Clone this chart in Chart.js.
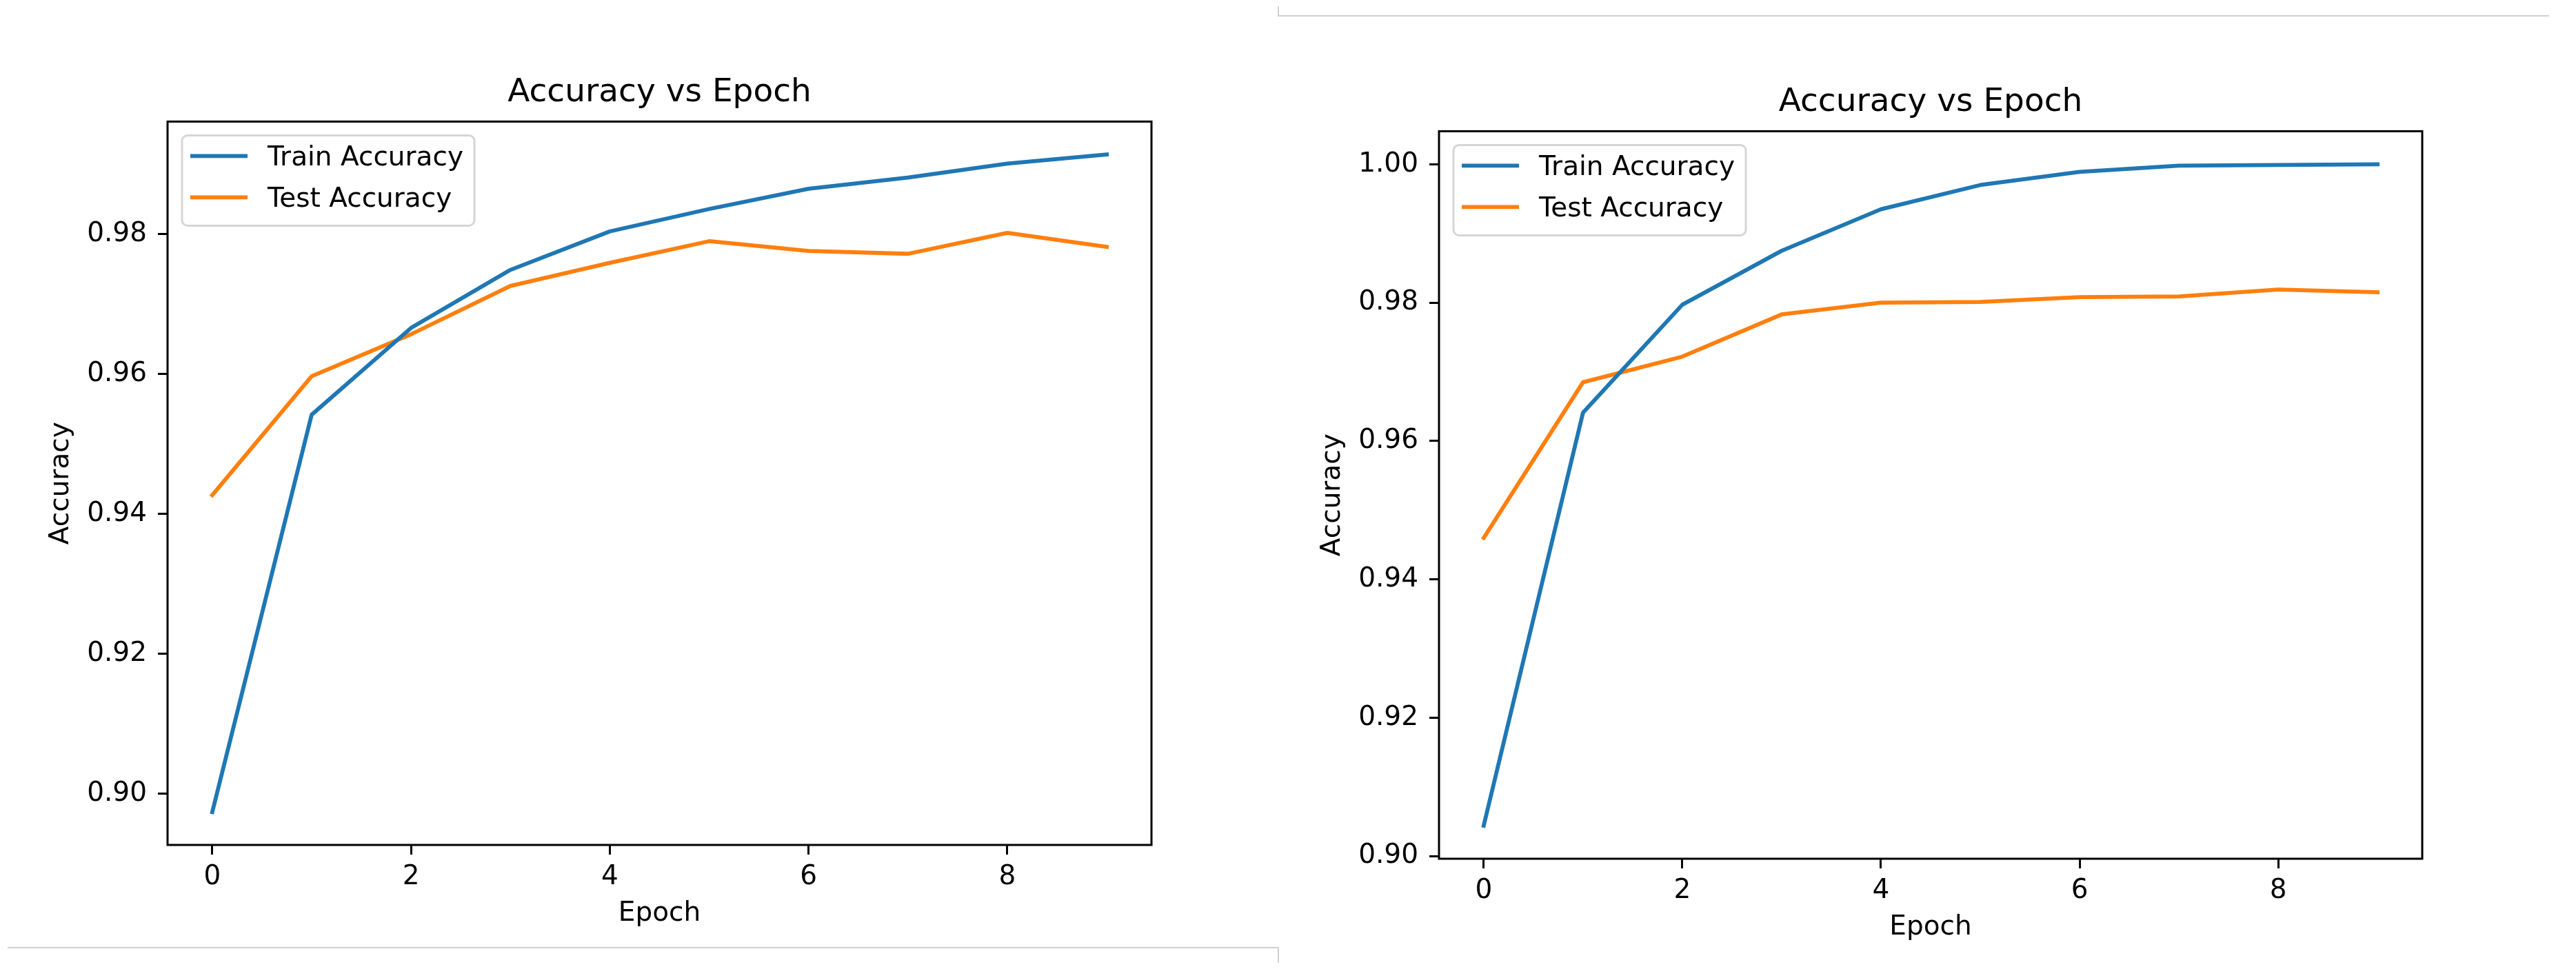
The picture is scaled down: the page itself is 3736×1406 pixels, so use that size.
<!DOCTYPE html>
<html>
<head>
<meta charset="utf-8">
<title>Accuracy vs Epoch</title>
<script src="https://cdn.jsdelivr.net/npm/chart.js@4.4.1/dist/chart.umd.min.js"></script>
<style>
  html, body { margin: 0; padding: 0; background: #fff; }
  body { width: 3736px; height: 1406px; position: relative; overflow: hidden; }
  .plot { position: absolute; }
  .rule { position: absolute; background: #d0d0d0; }
</style>
</head>
<body>
<!-- notebook cell borders -->
<div class="rule" style="left:11px;top:1374px;width:1844px;height:2px"></div>
<div class="rule" style="left:1853px;top:1374px;width:2px;height:23px"></div>
<div class="rule" style="left:1853px;top:9px;width:2px;height:15px"></div>
<div class="rule" style="left:1853px;top:22px;width:1844px;height:2px"></div>

<div class="plot" style="left:0px;top:0px;width:1868px;height:1366px"><canvas id="chartA"></canvas></div>
<div class="plot" style="left:1844px;top:14px;width:1867px;height:1372px"><canvas id="chartB"></canvas></div>

<script>
// values
const epochs = [0, 1, 2, 3, 4, 5, 6, 7, 8, 9];
const xTickValues = [0, 2, 4, 6, 8];

const trainAccA = [0.8974, 0.9542, 0.9666, 0.9749, 0.9804, 0.9836, 0.9865, 0.9881, 0.9901, 0.9914];
const testAccA  = [0.9427, 0.9597, 0.9657, 0.9726, 0.9759, 0.9790, 0.9776, 0.9772, 0.9802, 0.9782];
const yTicksA   = [0.90, 0.92, 0.94, 0.96, 0.98];

const trainAccB = [0.9044, 0.9641, 0.9797, 0.9875, 0.9935, 0.9970, 0.9989, 0.9998, 0.9999, 1.0000];
const testAccB  = [0.9460, 0.9685, 0.9722, 0.9783, 0.9800, 0.9801, 0.9808, 0.9809, 0.9819, 0.9815];
const yTicksB   = [0.90, 0.92, 0.94, 0.96, 0.98, 1.00];

Chart.defaults.font.family = "'DejaVu Sans'";
Chart.defaults.color = '#000';

// axes frame + legend drawn inside the plot area, matplotlib style
const boxLegend = {
    id: 'boxLegend',
    afterDatasetsDraw(chart) {
        const ctx = chart.ctx;
        const a = chart.chartArea;
        ctx.save();
        ctx.strokeStyle = '#000';
        ctx.lineWidth = 3;
        ctx.strokeRect(a.left, a.top, a.right - a.left, a.bottom - a.top);

        ctx.font = "39px 'DejaVu Sans'";
        const sets = chart.data.datasets;
        const textW = Math.max(...sets.map(d => ctx.measureText(d.label).width));
        const x = a.left + 21, y = a.top + 20;
        const w = 124 + textW + 16, h = 131;
        ctx.beginPath();
        ctx.roundRect(x, y, w, h, 8);
        ctx.fillStyle = 'rgba(255,255,255,0.8)';
        ctx.fill();
        ctx.strokeStyle = '#d6d6d6';
        ctx.lineWidth = 3;
        ctx.stroke();

        sets.forEach((d, i) => {
            const ly = y + 30 + i * 60;
            ctx.beginPath();
            ctx.moveTo(x + 12, ly);
            ctx.lineTo(x + 95, ly);
            ctx.strokeStyle = d.borderColor;
            ctx.lineWidth = d.borderWidth;
            ctx.lineCap = 'butt';
            ctx.stroke();
            ctx.fillStyle = '#000';
            ctx.textBaseline = 'alphabetic';
            ctx.textAlign = 'left';
            ctx.fillText(d.label, x + 124, ly + 14);
        });
        ctx.restore();
    }
};

function buildChart(id, train, test, yTicks) {
    const all = train.concat(test);
    const lo = Math.min(...all), hi = Math.max(...all);
    const ym = (hi - lo) * 0.05;
    const xm = (epochs[epochs.length - 1] - epochs[0]) * 0.05;

    const tickGrid = { drawOnChartArea: false, drawTicks: true, tickLength: 14, tickWidth: 3, tickColor: '#000' };

    return new Chart(document.getElementById(id), {
        type: 'line',
        data: {
            datasets: [{
                label: 'Train Accuracy',
                data: epochs.map((e, i) => ({ x: e, y: train[i] })),
                borderColor: '#1f77b4',
                borderWidth: 5.8
            }, {
                label: 'Test Accuracy',
                data: epochs.map((e, i) => ({ x: e, y: test[i] })),
                borderColor: '#ff7f0e',
                borderWidth: 5.8
            }]
        },
        options: {
            responsive: true,
            maintainAspectRatio: false,
            animation: false,
            layout: { padding: { left: 0, top: 0, right: 198, bottom: 0 } },
            elements: {
                point: { radius: 0, hoverRadius: 0 },
                line: { tension: 0, borderCapStyle: 'square', borderJoinStyle: 'round' }
            },
            plugins: {
                legend: { display: false },
                tooltip: { enabled: false },
                title: {
                    display: true,
                    text: 'Accuracy vs Epoch',
                    fullSize: false,
                    color: '#000',
                    font: { size: 47, weight: 'normal', lineHeight: 1.2 },
                    padding: { top: 107, bottom: 13 }
                }
            },
            scales: {
                x: {
                    type: 'linear',
                    min: epochs[0] - xm,
                    max: epochs[epochs.length - 1] + xm,
                    afterBuildTicks: s => { s.ticks = xTickValues.map(v => ({ value: v })); },
                    afterFit: s => { s.height = 140; },
                    ticks: { font: { size: 39 }, padding: 9, maxRotation: 0, autoSkip: false, callback: v => String(v) },
                    grid: tickGrid,
                    border: { display: false },
                    title: { display: true, text: 'Epoch', font: { size: 39, lineHeight: 1.2 }, padding: { top: 0, bottom: 17 } }
                },
                y: {
                    type: 'linear',
                    min: lo - ym,
                    max: hi + ym,
                    afterBuildTicks: s => { s.ticks = yTicks.map(v => ({ value: v })); },
                    afterFit: s => { s.width = 243; },
                    ticks: { font: { size: 39 }, padding: 16, autoSkip: false, callback: v => v.toFixed(2) },
                    grid: tickGrid,
                    border: { display: false },
                    title: { display: true, text: 'Accuracy', font: { size: 39, lineHeight: 1.2 }, padding: { top: 65, bottom: 0 } }
                }
            }
        },
        plugins: [boxLegend]
    });
}

buildChart('chartA', trainAccA, testAccA, yTicksA);
buildChart('chartB', trainAccB, testAccB, yTicksB);
</script>
</body>
</html>
